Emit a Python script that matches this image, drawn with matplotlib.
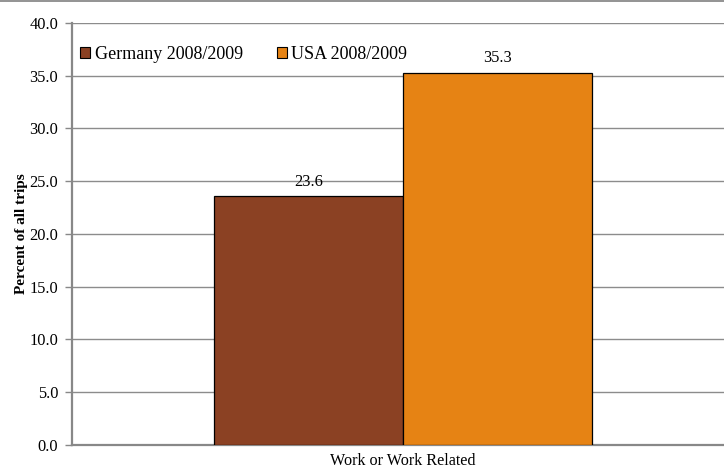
import matplotlib.pyplot as plt
from matplotlib.lines import Line2D
from matplotlib.patches import Patch

plt.rcParams['font.family'] = ['Liberation Serif', 'DejaVu Serif']

category = "Work or Work Related"
series = ["Germany 2008/2009", "USA 2008/2009"]
values = [23.6, 35.3]
colors = ["#8B4123", "#E68314"]

fig = plt.figure(figsize=(7.24, 4.71), dpi=100)
ax = fig.add_axes([0.0994, 0.0552, 0.914, 0.896])

width = 0.2855
offsets = [-width / 2, width / 2]
for name, val, col, off in zip(series, values, colors, offsets):
    ax.bar(off, val, width=width, color=col, edgecolor="black", linewidth=0.9, zorder=3, label=name)
    ax.text(off, val + 0.6, f"{val:.1f}", ha="center", va="bottom", fontsize=11.8, zorder=4)

ax.set_xlim(-0.5, 0.5)
ax.set_ylim(0, 40)
ax.set_yticks(range(0, 41, 5))
ax.set_yticklabels([f"{v:.1f}" for v in range(0, 41, 5)], fontsize=11.8)
ax.set_xticks([0])
ax.set_xticklabels([category], fontsize=11.6)
ax.tick_params(axis="x", length=0, pad=6)
ax.tick_params(axis="y", length=5, color="#888888", width=1, pad=5)

ax.grid(axis="y", color="#8c8c8c", linewidth=1, zorder=0)
for s in ["top", "right"]:
    ax.spines[s].set_visible(False)
for s in ["left", "bottom"]:
    ax.spines[s].set_color("#888888")
    ax.spines[s].set_linewidth(1.6)

ax.set_ylabel("Percent of all trips", fontsize=11, fontweight="bold", labelpad=1)

handles = [Patch(facecolor=c, edgecolor="black", linewidth=0.8) for c in colors]
ax.legend(handles, series, loc="upper left", bbox_to_anchor=(-0.004, 0.972), ncol=2,
          frameon=False, fontsize=13, handlelength=0.55, handleheight=0.55,
          handletextpad=0.25, columnspacing=1.9, borderaxespad=0.2)

fig.add_artist(Line2D([0, 1], [0.997, 0.997], transform=fig.transFigure, color="#808080", linewidth=1.2))

fig.savefig("out.png", dpi=100)
